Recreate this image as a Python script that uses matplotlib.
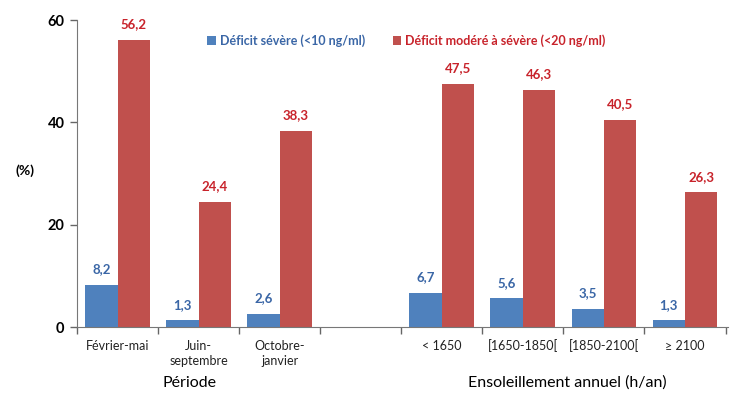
import matplotlib
matplotlib.use("Agg")
import matplotlib.pyplot as plt
import numpy as np

categories = ["Février-mai", "Juin-\nseptembre", "Octobre-\njanvier", "",
              "< 1650", "[1650-1850[", "[1850-2100[", "≥ 2100"]
severe = [8.2, 1.3, 2.6, None, 6.7, 5.6, 3.5, 1.3]
moderate = [56.2, 24.4, 38.3, None, 47.5, 46.3, 40.5, 26.3]
series_names = ["Déficit sévère (<10 ng/ml)", "Déficit modéré à sévère (<20 ng/ml)"]
group_titles = ["Période", "Ensoleillement annuel (h/an)"]
yticks = [0, 20, 40, 60]

blue = "#4F81BD"
red = "#C0504D"
blue_txt = "#3A66A6"
red_txt = "#C8232B"
font = ["Lato", "DejaVu Sans"]

fig = plt.figure(figsize=(7.36, 3.94), dpi=100)
ax = fig.add_axes([0.1046, 0.17, 0.8845, 0.779])

x = np.arange(len(categories)) + 0.5
w = 0.4
for i in range(len(categories)):
    if severe[i] is None:
        continue
    ax.bar(x[i] - w / 2, severe[i], w, color=blue, label=series_names[0] if i == 0 else None)
    ax.bar(x[i] + w / 2, moderate[i], w, color=red, label=series_names[1] if i == 0 else None)
    ax.annotate(f"{severe[i]:.1f}".replace(".", ","), (x[i] - w / 2, severe[i]),
                xytext=(0, 7), textcoords="offset points", ha="center", va="bottom",
                fontsize=9.5, fontweight="bold", color=blue_txt, family=font)
    ax.annotate(f"{moderate[i]:.1f}".replace(".", ","), (x[i] + w / 2, moderate[i]),
                xytext=(0, 7), textcoords="offset points", ha="center", va="bottom",
                fontsize=9.5, fontweight="bold", color=red_txt, family=font)

ax.set_xlim(0, len(categories) + 0.03)
ax.set_ylim(0, 60)
ax.set_yticks(yticks)
ax.set_yticklabels([str(v) for v in yticks], fontsize=10.5, fontweight="bold", family=font)
ax.set_xticks(x)
ax.set_xticklabels(categories, fontsize=9, family=font, color="#222222", linespacing=1.3)
ax.tick_params(axis="x", which="major", length=0, pad=9)
ax.set_xticks(np.arange(len(categories) + 1), minor=True)
ax.tick_params(axis="x", which="minor", length=5, width=1, color="#666666")
ax.tick_params(axis="y", length=5, width=1, color="#666666", pad=4)
for s in ["top", "right"]:
    ax.spines[s].set_visible(False)
for s in ["left", "bottom"]:
    ax.spines[s].set_color("#777777")

fig.text(0.034, 0.568, "(%)", fontsize=10, fontweight="bold", family=font, ha="center", va="center")
fig.text(0.258, 0.028, group_titles[0], fontsize=11.5, family=font, ha="center", va="center")
fig.text(0.771, 0.028, group_titles[1], fontsize=11.5, family=font, ha="center", va="center")

leg = ax.legend(loc="upper center", bbox_to_anchor=(0.506, 0.99), ncol=2, frameon=False,
                prop={"family": font, "size": 9, "weight": "bold"},
                handlelength=0.7, handleheight=0.7, handletextpad=0.3, columnspacing=2.2)
for t, c in zip(leg.get_texts(), [blue_txt, red_txt]):
    t.set_color(c)

fig.savefig("out.png", dpi=100)
